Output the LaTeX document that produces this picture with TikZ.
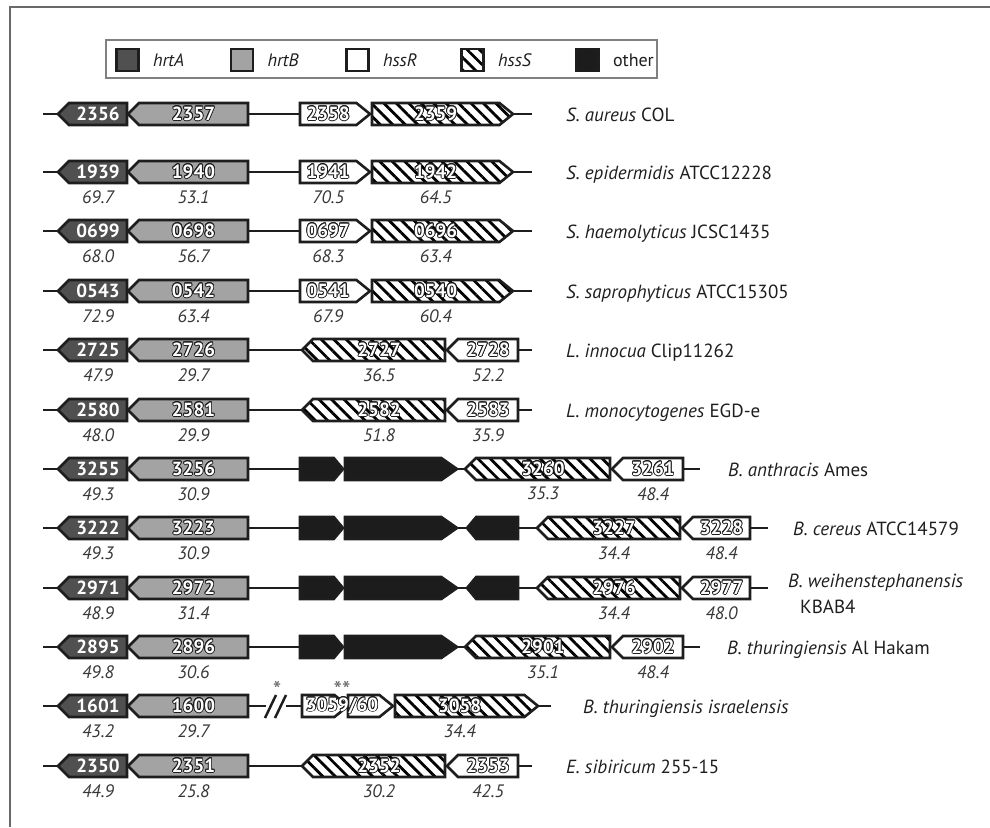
\documentclass[tikz,border=0pt]{standalone}
\usepackage{fontspec}
\setmainfont{PT Sans}
\usepackage{contour}
\contourlength{0.8pt}
\usetikzlibrary{shapes.symbols, positioning, patterns.meta}
\definecolor{hrtAc}{RGB}{80,80,80}
\definecolor{hrtBc}{RGB}{163,163,163}
\definecolor{othc}{RGB}{28,28,28}
\definecolor{linec}{RGB}{30,30,30}
\definecolor{pctc}{RGB}{55,55,55}
\definecolor{framec}{RGB}{105,105,105}
\newcommand\ctc{linec}
\newcommand\gl[1]{\contour{\ctc}{#1}}

\begin{document}
\begin{tikzpicture}[x=1pt, y=-1pt,
    gene/.style={shape=signal, draw=linec, line width=2.6pt, minimum height=22pt,
                 inner sep=0pt, outer sep=0pt, text=white, font=\fontsize{19}{19}\selectfont\bfseries},
    lft/.style={signal to=west, signal pointer angle=90, anchor=east},
    rgt/.style={signal to=east, signal pointer angle=78, anchor=west},
    hrtA/.style={fill=hrtAc, /utils/exec={\def\ctc{hrtAc}}},
    hrtB/.style={fill=hrtBc},
    hssR/.style={fill=white},
    hssS/.style={preaction={fill=white}, pattern={Lines[angle=-45,distance=8.8pt,line width=2.8pt]}},
    oth/.style={fill=othc},
    oth1/.style={fill=othc, signal pointer angle=100},
    oth2/.style={fill=othc, signal pointer angle=70},
    bb/.style={draw=linec, line width=2.5pt},
    pct/.style={font=\fontsize{18}{18}\selectfont\itshape, text=pctc, inner sep=0pt},
    org/.style={font=\fontsize{19}{20}\selectfont, text=linec, anchor=base west, inner sep=0pt},
    legsq/.style={draw=linec, line width=2.6pt, minimum size=22pt, inner sep=0pt},
    legtxt/.style={font=\fontsize{18}{20}\selectfont, text=linec, anchor=west, inner sep=0pt},
    glab/.style={text=white, font=\fontsize{19}{19}\selectfont\bfseries, inner sep=0pt},
    ast/.style={font=\fontsize{24}{24}\selectfont, text=gray!80!black, inner sep=0pt}
  ]
  \useasboundingbox (0,0) rectangle (990,827);
  \draw[framec, line width=1.5pt] (990,7) -- (10,7) -- (10,827);

  % legend
  \node[draw=gray, line width=1.5pt, minimum width=551pt, minimum height=38pt, inner sep=0pt] (leg) at (381.5,59) {};
  \foreach \x/\s/\t [count=\k] in {127.5/hrtA/\textit{hrtA}, 242/hrtB/\textit{hrtB}, 357.5/hssR/\textit{hssR},
                                   472.5/hssS/\textit{hssS}, 587.5/oth/other} {
    \node[legsq, \s] (key\k) at (\x,60) {};
    \node[legtxt, right=13pt of key\k] (keyt\k) {\t};
  }

  % S. aureus COL
  \begin{scope}[yshift=-114pt]
    \coordinate (r1s) at (43,0); \coordinate (r1e) at (532,0);
    \draw[bb] (r1s) -- (r1e);
    \foreach \s/\d/\p/\w/\t [count=\k] in {hrtA/lft/127/69/2356, hrtB/lft/248/120/2357,
                                           hssR/rgt/300/70/2358, hssS/rgt/372/141/2359} {
      \node[gene, \d, \s, minimum width=\w pt] (r1g\k) at (\p,0) {\gl{\t}};
    }
    \node[org] (r1o) at (566,7) {\textit{S. aureus} COL};
  \end{scope}

  % S. epidermidis
  \begin{scope}[yshift=-172pt]
    \coordinate (r2s) at (43,0); \coordinate (r2e) at (532,0);
    \draw[bb] (r2s) -- (r2e);
    \foreach \s/\d/\p/\w/\t [count=\k] in {hrtA/lft/127/69/1939, hrtB/lft/248/120/1940,
                                           hssR/rgt/300/70/1941, hssS/rgt/372/141/1942} {
      \node[gene, \d, \s, minimum width=\w pt] (r2g\k) at (\p,0) {\gl{\t}};
    }
    \foreach \k/\v in {1/69.7, 2/53.1, 3/70.5, 4/64.5} {
      \node[pct, below=7pt of r2g\k] (r2p\k) {\v};
    }
    \node[org] (r2o) at (566,7) {\textit{S. epidermidis} ATCC12228};
  \end{scope}

  % S. haemolyticus
  \begin{scope}[yshift=-231pt]
    \coordinate (r3s) at (43,0); \coordinate (r3e) at (532,0);
    \draw[bb] (r3s) -- (r3e);
    \foreach \s/\d/\p/\w/\t [count=\k] in {hrtA/lft/127/69/0699, hrtB/lft/248/120/0698,
                                           hssR/rgt/300/70/0697, hssS/rgt/372/141/0696} {
      \node[gene, \d, \s, minimum width=\w pt] (r3g\k) at (\p,0) {\gl{\t}};
    }
    \foreach \k/\v in {1/68.0, 2/56.7, 3/68.3, 4/63.4} {
      \node[pct, below=7pt of r3g\k] (r3p\k) {\v};
    }
    \node[org] (r3o) at (566,7) {\textit{S. haemolyticus} JCSC1435};
  \end{scope}

  % S. saprophyticus
  \begin{scope}[yshift=-291pt]
    \coordinate (r4s) at (43,0); \coordinate (r4e) at (532,0);
    \draw[bb] (r4s) -- (r4e);
    \foreach \s/\d/\p/\w/\t [count=\k] in {hrtA/lft/127/69/0543, hrtB/lft/248/120/0542,
                                           hssR/rgt/300/70/0541, hssS/rgt/372/141/0540} {
      \node[gene, \d, \s, minimum width=\w pt] (r4g\k) at (\p,0) {\gl{\t}};
    }
    \foreach \k/\v in {1/72.9, 2/63.4, 3/67.9, 4/60.4} {
      \node[pct, below=7pt of r4g\k] (r4p\k) {\v};
    }
    \node[org] (r4o) at (566,7) {\textit{S. saprophyticus} ATCC15305};
  \end{scope}

  % L. innocua
  \begin{scope}[yshift=-350pt]
    \coordinate (r5s) at (43,0); \coordinate (r5e) at (532,0);
    \draw[bb] (r5s) -- (r5e);
    \foreach \s/\d/\p/\w/\t [count=\k] in {hrtA/lft/127/69/2725, hrtB/lft/248/120/2726,
                                           hssS/lft/445/143/2727, hssR/lft/518/71/2728} {
      \node[gene, \d, \s, minimum width=\w pt] (r5g\k) at (\p,0) {\gl{\t}};
    }
    \foreach \k/\v in {1/47.9, 2/29.7, 3/36.5, 4/52.2} {
      \node[pct, below=7pt of r5g\k] (r5p\k) {\v};
    }
    \node[org] (r5o) at (566,7) {\textit{L. innocua} Clip11262};
  \end{scope}

  % L. monocytogenes
  \begin{scope}[yshift=-410pt]
    \coordinate (r6s) at (43,0); \coordinate (r6e) at (532,0);
    \draw[bb] (r6s) -- (r6e);
    \foreach \s/\d/\p/\w/\t [count=\k] in {hrtA/lft/127/69/2580, hrtB/lft/248/120/2581,
                                           hssS/lft/445/143/2582, hssR/lft/518/71/2583} {
      \node[gene, \d, \s, minimum width=\w pt] (r6g\k) at (\p,0) {\gl{\t}};
    }
    \foreach \k/\v in {1/48.0, 2/29.9, 3/51.8, 4/35.9} {
      \node[pct, below=7pt of r6g\k] (r6p\k) {\v};
    }
    \node[org] (r6o) at (566,7) {\textit{L. monocytogenes} EGD-e};
  \end{scope}

  % B. anthracis
  \begin{scope}[yshift=-469pt]
    \coordinate (r7s) at (43,0); \coordinate (r7e) at (700,0);
    \draw[bb] (r7s) -- (r7e);
    \foreach \s/\d/\p/\w/\t [count=\k] in {hrtA/lft/127/69/3255, hrtB/lft/248/120/3256,
                                           oth1/rgt/300/43/{}, oth2/rgt/345/112/{},
                                           hssS/lft/610/145/3260, hssR/lft/683/71/3261} {
      \node[gene, \d, \s, minimum width=\w pt] (r7g\k) at (\p,0) {\gl{\t}};
    }
    \foreach \k/\v in {1/49.3, 2/30.9, 5/35.3, 6/48.4} {
      \node[pct, below=7pt of r7g\k] (r7p\k) {\v};
    }
    \node[org] (r7o) at (728,7) {\textit{B. anthracis} Ames};
  \end{scope}

  % B. cereus
  \begin{scope}[yshift=-528pt]
    \coordinate (r8s) at (43,0); \coordinate (r8e) at (768,0);
    \draw[bb] (r8s) -- (r8e);
    \foreach \s/\d/\p/\w/\t [count=\k] in {hrtA/lft/127/69/3222, hrtB/lft/248/120/3223,
                                           oth1/rgt/300/43/{}, oth2/rgt/345/112/{}, oth1/lft/518/51/{},
                                           hssS/lft/680/143/3227, hssR/lft/750/68/3228} {
      \node[gene, \d, \s, minimum width=\w pt] (r8g\k) at (\p,0) {\gl{\t}};
    }
    \foreach \k/\v in {1/49.3, 2/30.9, 6/34.4, 7/48.4} {
      \node[pct, below=7pt of r8g\k] (r8p\k) {\v};
    }
    \node[org] (r8o) at (793,7) {\textit{B. cereus} ATCC14579};
  \end{scope}

  % B. weihenstephanensis
  \begin{scope}[yshift=-588pt]
    \coordinate (r9s) at (43,0); \coordinate (r9e) at (768,0);
    \draw[bb] (r9s) -- (r9e);
    \foreach \s/\d/\p/\w/\t [count=\k] in {hrtA/lft/127/69/2971, hrtB/lft/248/120/2972,
                                           oth1/rgt/300/43/{}, oth2/rgt/345/112/{}, oth1/lft/518/51/{},
                                           hssS/lft/680/143/2976, hssR/lft/750/68/2977} {
      \node[gene, \d, \s, minimum width=\w pt] (r9g\k) at (\p,0) {\gl{\t}};
    }
    \foreach \k/\v in {1/48.9, 2/31.4, 6/34.4, 7/48.0} {
      \node[pct, below=7pt of r9g\k] (r9p\k) {\v};
    }
    \node[org] (r9o) at (788,-1) {\textit{B. weihenstephanensis}};
    \node[org] (r9o2) at (800,25) {KBAB4};
  \end{scope}

  % B. thuringiensis Al Hakam
  \begin{scope}[yshift=-647pt]
    \coordinate (r10s) at (43,0); \coordinate (r10e) at (700,0);
    \draw[bb] (r10s) -- (r10e);
    \foreach \s/\d/\p/\w/\t [count=\k] in {hrtA/lft/127/69/2895, hrtB/lft/248/120/2896,
                                           oth1/rgt/300/43/{}, oth2/rgt/345/112/{},
                                           hssS/lft/610/145/2901, hssR/lft/683/71/2902} {
      \node[gene, \d, \s, minimum width=\w pt] (r10g\k) at (\p,0) {\gl{\t}};
    }
    \foreach \k/\v in {1/49.8, 2/30.6, 5/35.1, 6/48.4} {
      \node[pct, below=7pt of r10g\k] (r10p\k) {\v};
    }
    \node[org] (r10o) at (727,7) {\textit{B. thuringiensis} Al Hakam};
  \end{scope}

  % B. thuringiensis israelensis
  \begin{scope}[yshift=-706pt]
    \coordinate (r11s) at (43,0); \coordinate (r11b) at (266,0);
    \coordinate (r11c) at (286,0); \coordinate (r11e) at (551,0);
    \draw[bb] (r11s) -- (r11b);
    \draw[bb] (r11c) -- (r11e);
    \draw[bb] (265,12) -- (276,-11) (275,12) -- (286,-11);
    \foreach \s/\d/\p/\w/\t [count=\k] in {hrtA/lft/127/69/1601, hrtB/lft/248/120/1600,
                                           hssR/rgt/302/46/{}, hssR/rgt/348/45/{}, hssS/rgt/395/143/3058} {
      \node[gene, \d, \s, minimum width=\w pt] (r11g\k) at (\p,0) {\gl{\t}};
    }
    \node[glab] (r11t) at (342,0) {\gl{3059/60}};
    \node[ast] (r11a1) at (277,-16) {*};
    \node[ast] (r11a2) at (342,-16) {**};
    \foreach \k/\v in {1/43.2, 2/29.7, 5/34.4} {
      \node[pct, below=7pt of r11g\k] (r11p\k) {\v};
    }
    \node[org] (r11o) at (583,7) {\textit{B. thuringiensis israelensis}};
  \end{scope}

  % E. sibiricum
  \begin{scope}[yshift=-766pt]
    \coordinate (r12s) at (43,0); \coordinate (r12e) at (532,0);
    \draw[bb] (r12s) -- (r12e);
    \foreach \s/\d/\p/\w/\t [count=\k] in {hrtA/lft/127/69/2350, hrtB/lft/248/120/2351,
                                           hssS/lft/445/143/2352, hssR/lft/518/71/2353} {
      \node[gene, \d, \s, minimum width=\w pt] (r12g\k) at (\p,0) {\gl{\t}};
    }
    \foreach \k/\v in {1/44.9, 2/25.8, 3/30.2, 4/42.5} {
      \node[pct, below=7pt of r12g\k] (r12p\k) {\v};
    }
    \node[org] (r12o) at (566,7) {\textit{E. sibiricum} 255-15};
  \end{scope}
\end{tikzpicture}
\end{document}
